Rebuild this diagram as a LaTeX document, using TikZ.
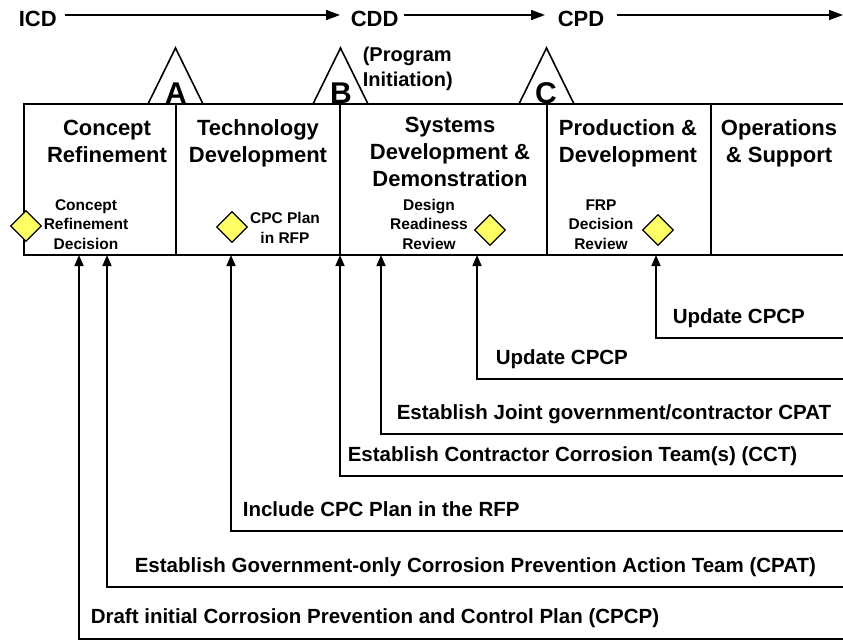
\documentclass[tikz,border=0pt]{standalone}
\usepackage{fontspec}
\setmainfont{Liberation Sans}
\usetikzlibrary{arrows.meta,shapes.geometric}
\definecolor{dyellow}{RGB}{255,255,102}
\begin{document}
\begin{tikzpicture}[x=1pt,y=-1pt, line width=1.6pt,
  every node/.style={inner sep=0pt},
  title/.style={font=\fontsize{22}{27}\selectfont\bfseries, align=center, anchor=base},
  small/.style={font=\fontsize{15.5}{19.5}\selectfont\bfseries, align=center, anchor=base},
  lbl/.style={font=\fontsize{20.5}{24}\selectfont\bfseries, anchor=base west},
  milestone/.style={font=\fontsize{22}{26}\selectfont\bfseries, anchor=base west},
  letter/.style={font=\fontsize{30}{30}\selectfont\bfseries, anchor=base},
  dia/.style={diamond, draw, fill=dyellow, line width=1.3pt, minimum width=31pt, minimum height=31pt, inner sep=0pt},
  conn/.style={-{Triangle[length=11pt,width=9pt]}},
  toparr/.style={-{Triangle[length=14pt,width=10pt]}}
]
\useasboundingbox (0,0) rectangle (843,641);

% top milestones
\coordinate (endtop) at (843,15);
\node[milestone] (icd) at (18,26) {ICD};
\node[milestone] (cdd) at (350,26) {CDD};
\node[milestone] (cpd) at (557,26) {CPD};
\draw[toparr, shorten <=8pt, shorten >=10pt] (icd.east |- endtop) -- (cdd.west |- endtop);
\draw[toparr, shorten <=5pt, shorten >=12pt] (cdd.east |- endtop) -- (cpd.west |- endtop);
\draw[toparr, shorten <=12pt] (cpd.east |- endtop) -- (endtop);

% phase box
\draw (843,104) -- (24,104) -- (24,255) -- (843,255);
\draw (176,104) -- (176,255);
\draw (340,104) -- (340,255);
\draw (547,104) -- (547,255);
\draw (711,104) -- (711,255);

% milestone triangles
\draw (148,104) -- (175.5,48) -- (203,104);
\draw (313,104) -- (340.5,48) -- (368,104);
\draw (519,104) -- (546.5,48) -- (574,104);
\node[letter] (lA) at (176,103) {A};
\node[letter] (lB) at (341,103) {B};
\node[letter] (lC) at (546,103) {C};
\node[font=\fontsize{20}{24.5}\selectfont\bfseries, align=left, anchor=base west] (pinit) at (362,86) {(Program\\Initiation)};

% phase titles (anchor = baseline of last line)
\node[title] (t1) at (107,162) {Concept\\Refinement};
\node[title] (t2) at (258,162) {Technology\\Development};
\node[title] (t3) at (450,186) {Systems\\Development \&\\Demonstration};
\node[title] (t4) at (628,162) {Production \&\\Development};
\node[title] (t5) at (779,162) {Operations\\\& Support};

% decision points
\node[small] (s1) at (86,249) {Concept\\Refinement\\Decision};
\node[small] (s2) at (285,243) {CPC Plan\\in RFP};
\node[small] (s3) at (429,249) {Design\\Readiness\\Review};
\node[small] (s4) at (601,249) {FRP\\Decision\\Review};
\node[dia] (d1) at (26,226) {};
\node[dia] (d2) at (232,227) {};
\node[dia] (d3) at (490,230) {};
\node[dia] (d4) at (658,230) {};

% activity connectors
\coordinate (b1) at (79,255);  \coordinate (r1) at (843,639);
\coordinate (b2) at (107,255); \coordinate (r2) at (843,587);
\coordinate (b3) at (231,255); \coordinate (r3) at (843,531);
\coordinate (b4) at (340,255); \coordinate (r4) at (843,476);
\coordinate (b5) at (381,255); \coordinate (r5) at (843,434);
\coordinate (b6) at (477,255); \coordinate (r6) at (843,379);
\coordinate (b7) at (656,255); \coordinate (r7) at (843,338);
\draw[conn] (r1) -| (b1);
\draw[conn] (r2) -| (b2);
\draw[conn] (r3) -| (b3);
\draw[conn] (r4) -| (b4);
\draw[conn] (r5) -| (b5);
\draw[conn] (r6) -| (b6);
\draw[conn] (r7) -| (b7);
\node[lbl] (a1) at (90,623) {Draft initial Corrosion Prevention and Control Plan (CPCP)};
\node[lbl] (a2) at (134,572) {Establish Government-only Corrosion Prevention Action Team (CPAT)};
\node[lbl] (a3) at (242,516) {Include CPC Plan in the RFP};
\node[lbl] (a4) at (347,461) {Establish Contractor Corrosion Team(s) (CCT)};
\node[lbl] (a5) at (396,419) {Establish Joint government/contractor CPAT};
\node[lbl] (a6) at (495,364) {Update CPCP};
\node[lbl] (a7) at (672,323) {Update CPCP};
\end{tikzpicture}
\end{document}
